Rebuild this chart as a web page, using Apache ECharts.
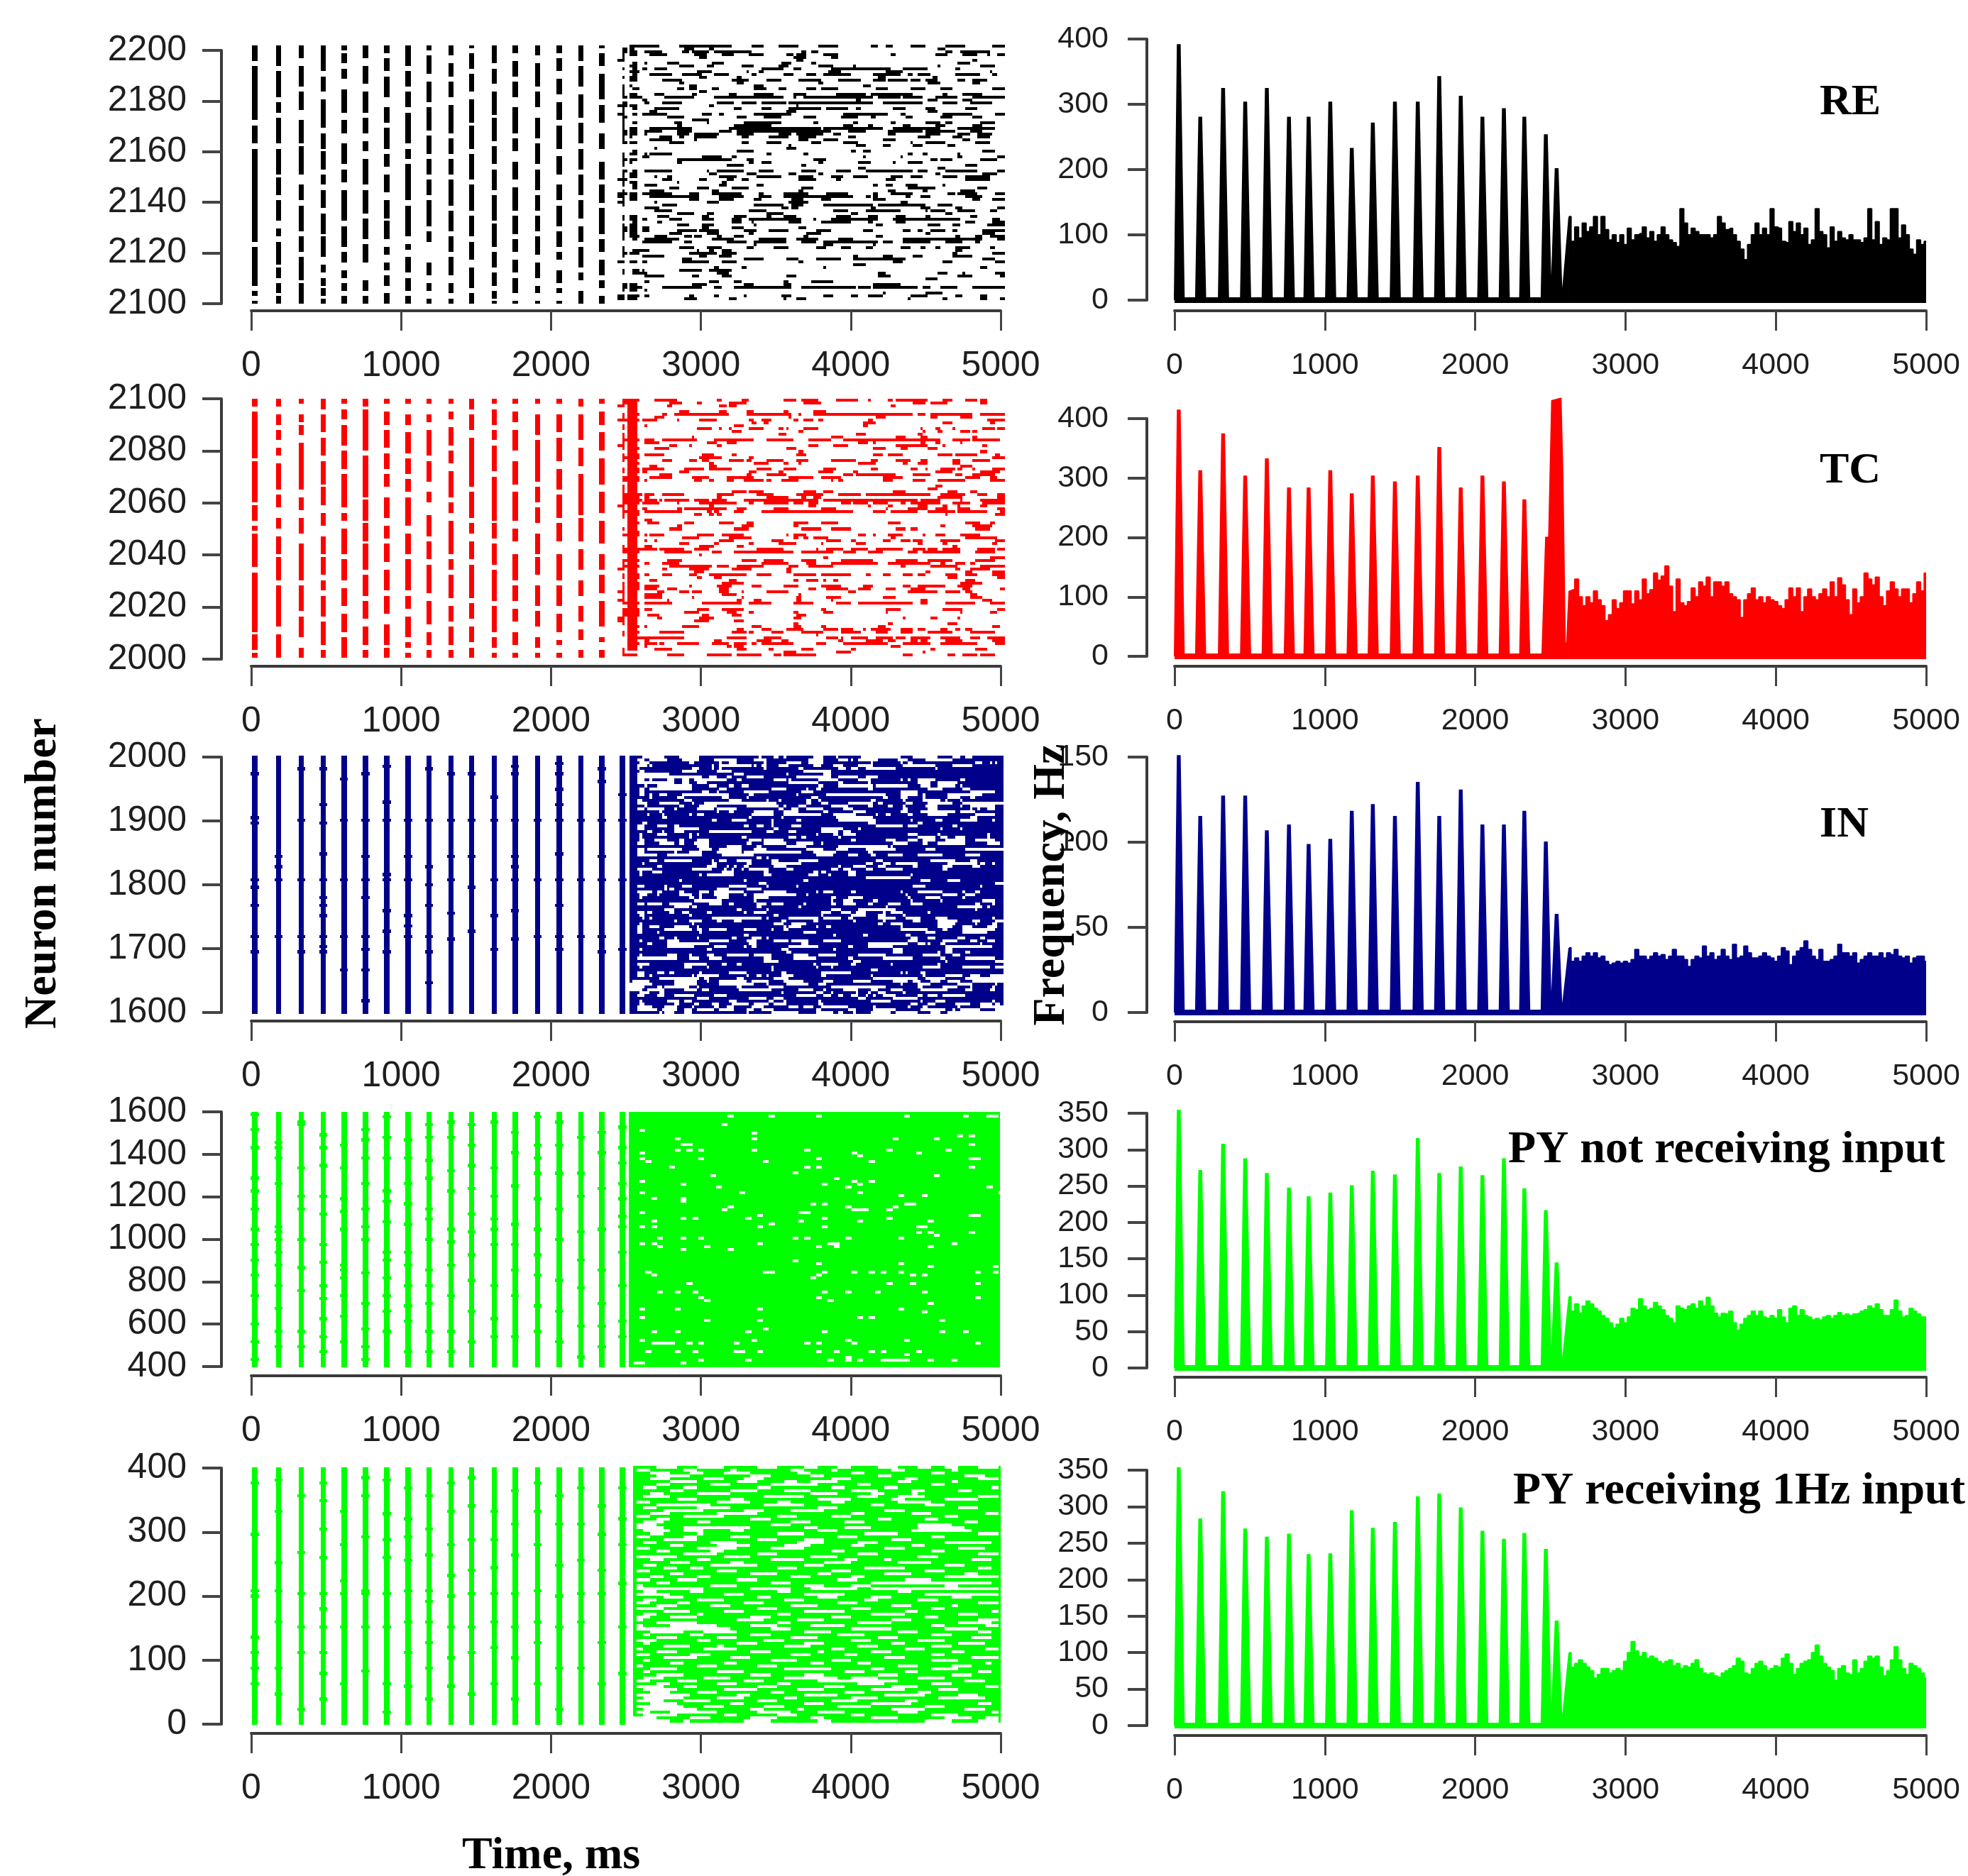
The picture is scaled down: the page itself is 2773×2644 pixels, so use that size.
<!DOCTYPE html>
<html><head><meta charset="utf-8"><style>html,body{margin:0;padding:0;background:#fff}#c{width:2773px;height:2644px}</style>
<script src="https://cdn.jsdelivr.net/npm/echarts@6/dist/echarts.min.js"></script></head><body><div id="c"></div><script>
const spikeTimesLeft=[24,183,334,481,619,762,905,1047,1186,1332,1471,1622,1760,1911,2054,2200,2339,2477];
const spikeTimesRight=[28,171,323,470,614,761,892,1036,1179,1319,1466,1618,1761,1904,2048,2191,2327,2470,2542];
const tailStart=2625, tailStep=25;

const re_peaks=[391,280,324,303,324,280,280,303,232,271,303,303,342,312,280,293,280,253,201];
const tc_peaks=[414,312,374,303,332,283,283,312,273,303,293,303,351,283,303,293,263];
const tc_onset=[[2445,0],[2470,200],[2490,200],[2510,430],[2570,434],[2583,300],[2598,22],[2610,22]];
const in_peaks=[150.7,115,127,127,106.6,110,98.5,101.6,118,122,115,135,115,130.5,110,110,118,100,57.5];
const py0_peaks=[354,271,307,287,267,247,235,240,250,270,265,315,267,276,264,287,246,216,144];
const py1_peaks=[353,283,320,269,258,262,234,235,294,270,278,313,317,298,266,255,263,241,143];

const re_tail=[128,90,112,95,118,105,112,128,100,128,108,92,100,88,100,85,110,92,100,102,112,95,105,90,100,112,100,92,88,82,140,118,100,110,105,100,100,100,95,100,128,118,108,110,100,90,78,62,85,100,118,100,110,100,140,112,110,90,88,120,105,118,100,110,85,92,140,105,100,80,112,90,105,95,92,100,92,92,88,95,140,92,120,85,95,92,140,140,95,115,100,78,70,92,85,90];
const tc_tail=[110,112,130,100,85,100,90,110,95,85,60,70,95,80,90,110,110,88,110,95,130,105,112,140,128,135,152,118,75,130,90,85,92,115,100,125,118,133,100,125,125,118,125,105,100,95,65,95,105,115,95,100,90,100,95,92,85,80,95,115,100,115,75,100,113,100,95,105,113,100,125,100,132,120,95,70,113,90,100,140,130,120,133,100,85,110,125,113,100,113,113,90,105,125,110,140];
const in_tail=[38,30,32,30,33,35,33,35,32,33,30,28,29,30,29,30,29,31,37,33,33,31,33,35,33,34,31,33,37,33,33,31,27,31,33,32,39,33,35,31,33,37,33,31,40,32,33,39,35,32,32,33,35,33,32,30,33,38,36,28,33,36,38,42,37,33,31,37,30,30,31,33,40,35,35,33,35,29,31,33,35,33,33,35,32,35,34,37,33,32,33,29,32,33,33,30];
const py0_tail=[98,78,88,75,85,92,88,82,78,72,68,62,55,60,68,62,70,82,80,95,85,80,82,90,85,80,72,68,62,85,82,80,85,88,82,92,85,97,85,75,70,75,74,78,62,52,60,68,72,78,72,78,70,68,72,68,80,70,62,82,85,72,80,72,70,66,68,66,70,72,68,72,76,72,74,72,74,75,78,80,85,82,88,80,72,72,80,93,78,70,72,82,78,74,70,70];
const py1_tail=[100,80,85,90,85,80,75,65,70,78,78,72,75,78,75,88,100,115,102,95,100,92,95,92,88,85,88,90,82,85,78,82,80,85,90,78,72,70,72,68,66,72,75,78,82,92,88,72,70,78,85,88,82,75,78,82,80,92,98,85,70,78,85,88,90,100,110,95,85,80,75,62,78,82,72,70,90,72,78,88,95,92,95,80,68,75,90,108,90,78,70,85,82,78,72,65];

const re_runs=["5 17 25 46 54 59 65 73 81 89 102 105 108 111 118 124 132 140 151 156","2 4 5 7 27 31 37 39 129 132","2 4 5 8 11 18 26 29 30 37 39 54 74 76 78 81 132 135 138 150","2 3 5 8 13 20 31 36 42 47 53 59 68 71 72 76 83 89 110 112 128 133 139 145 149 150 153 156","2 3 33 36 71 76 86 89","0 3 72 75 143 145","6 8 11 12 20 25 38 43 66 70 78 80 137 142","5 8 25 31 36 39 50 55 65 69 81 87 95 96 129 130 146 152","2 3 6 8 10 12 15 20 58 67 71 74 86 110 115 125 136 138","5 9 32 38 52 53 57 59 85 90 108 115 150 151","6 8 13 22 26 34 39 45 54 56 67 71 76 80 83 94 103 114 117 119 121 126 136 146 151 153","2 3 5 8 33 36 48 50 105 108 127 129","5 8 18 26 46 53 60 66 73 82 89 98 103 108 109 117 118 122 124 129 137 140 143 149","25 27 48 51 81 83 125 130 143 146","2 3 5 6 29 32 55 59 99 102","2 3 6 9 24 27 29 32 38 41 55 60 65 68 76 80 82 89 104 109 118 124 130 135 151 156","2 3 33 36","2 3 5 8 15 19 30 32 45 48 55 63 71 76 88 100 102 119 131 133 139 147","2 4 5 10 19 31 39 67 71 72 75 103 105 114 115 123 128 137 143 156","10 12 96 98 125 129 139 143","2 4 11 13 18 26 40 47 50 56 58 68 69 103 107 123 131 137 142 151","0 4 5 8 37 39 72 73","2 3 6 8 15 25 47 50 58 62 69 82 84 93 96 98 111 116 124 128 140 145","2 3 13 16 68 72 125 129","0 3 6 8 10 20 34 38 41 43 55 70 91 109 114 116 131 143 152 156","2 4 20 27 48 52 59 66 75 80 90 97 102 104 116 119 130 135 143 147","2 3 30 37","2 3 6 8 23 26 36 37 51 66 79 81 95 97 110 112 124 130 132 135 146 152","2 3 24 26 47 62 91 95 101 103 115 118 128 132 143 147","2 3 5 8 13 30 45 82 83 107 111 130 137 152","2 4 5 8 11 18 24 30 41 46 48 86 93 100 109 123 124 136 142 147","2 4 5 8 11 12 24 29 31 41 48 55 65 70 72 83 87 90 109 112 124 130 137 142 145 151","2 3 5 6 17 22 25 27 31 40 50 53 61 69 73 80 93 96 121 126 135 139 145 150","2 3 13 22 31 32 73 77 83 89 107 112 139 142","2 4 5 8 21 27 50 53 60 66 78 82 91 97 118 119 124 132 144 150","69 70 96 100 107 110 119 123 133 136","15 16 68 72","6 8 48 55 94 96 99 102 147 152","2 3 5 8 11 12 13 22 60 62 75 77 117 119 123 125 137 138","2 3 10 13 34 42 46 48 99 100 114 115 137 139 153 156","2 4 5 8 24 46 52 55 79 84 126 129 130 135 146 153","2 3 5 6 24 26 53 55 58 62 81 83 97 102 111 112 117 123","2 3 44 51 74 76 140 145","97 100 129 132","2 4 6 8 11 22 36 37 40 51 57 63 74 80 88 94 100 119 121 125 132 145 153 156","2 3 5 8 37 40 52 56 69 72 81 83 128 130 147 153","2 3 5 8 15 16 20 22 41 48 56 66 73 79 86 91 95 101 110 115 118 123 131 137 140 150","0 4 18 22 33 36 44 47 50 53 73 80 88 90 108 112 140 150","2 3 5 8 24 25 42 44","2 3 6 8 11 16 41 44 56 59 103 105 108 111 116 121 131 132","6 8 21 25 32 37 46 53 74 79 117 128 145 149","2 3 13 19 38 41 73 75 109 112 123 125 138 144","0 4 5 8 10 22 29 33 38 50 57 59 67 77 84 93 103 105 110 119 133 136 137 145 152 156","0 3 5 8 13 33 41 51 57 62 67 95 100 102 103 105 116 118 122 126 140 147","2 3 5 8 29 33 41 47 55 58 70 75 82 86 103 108 143 146 151 156","0 3 15 16 36 41 69 77 114 117","2 3 18 24 55 67 70 75 83 103 105 124 129 135","11 17 66 69 70 73 102 104 122 126 136 139 153 156","15 22 53 60 87 93 100 114 124 125 126 132 137 144 150 153","24 31 36 39 60 67 94 97 132 135","2 3 5 8 16 21 34 37 47 52 60 62 67 72 88 94 101 105 112 116 124 126 142 145","2 3 5 8 10 12 21 26 34 39 46 50 53 74 79 80 86 105 111 138 151 154","6 8 16 18 46 50 54 55 69 74 82 94 101 103 112 116 140 144 151 156","2 3 5 8 24 29 34 39 55 56 104 107 125 130 135 138 149 156","2 4 5 8 10 13 34 37 46 51 73 76","2 4 5 8 10 13 24 32 33 41 51 56 61 69 80 86 99 103 115 118 121 123 126 132 135 137 147 156","2 3 5 8 21 26 36 41 53 55 76 82 124 126 147 152","2 3 5 9 15 20 27 30 31 34 40 42 47 51 75 77 104 107 136 138 144 147 150 156","2 3 6 8 11 25 38 47 57 68 72 81 89 95 115 147 153 156","10 22 27 30 44 52 55 68 74 80 83 105 107 111 115 126 132 139 144 146","55 56 83 87 103 104","2 3 25 31 36 42 52 55 63 69 80 84 90 94 100 103 114 118 122 124 128 130 136 142 150 152","2 3 6 13 32 33 37 39 42 46 136 139","2 4 5 9 29 40 42 48 135 137 151 156","2 3 10 19 33 36 41 46 95 97 107 111 119 123 135 143","26 30 51 59 68 73 80 90 95 116 147 152","0 3 5 8 10 12 26 37 42 48 73 75 111 115 131 135 152 156","95 100","39 41 50 52 83 84 146 149","2 3 6 9 10 11 25 34 37 46","2 3 6 12 40 45 105 108 129 133 139 140 152 156","11 19 30 33 42 46 68 72 105 110 137 143 154 156","124 129","11 13 37 41 47 50 67 69 78 87","2 4 5 8 30 36 51 55 67 70 103 114","2 4 5 10 18 34 39 42 47 70 74 96 97 102 103 121 123 126 130 137 143 156","2 3 5 8 11 12","107 108 124 131","0 3 4 9 11 13 29 31 39 41 51 52 66 70 83 87 94 97 101 107 118 125 136 139 146 149","0 3 4 8 27 32 45 48 67 68 72 76 117 118 131 133 146 149 154 156"];
const tc_runs=["2 9 15 24 40 42 50 53 67 72 74 81 88 97 101 102 109 111 112 125 131 135 140 145 146 149","2 8 21 26 32 34 45 52 75 82 119 124 126 133 146 149","0 3 4 8 20 22 41 44 45 48 110 112","4 8","4 8 25 29 41 44 52 55 67 69 79 84","2 3 4 9 18 20 23 45 52 70 73 74 79 119 121 124 126 143 146 156","2 3 4 8 15 19 69 70 104 108 126 129 138 143","0 9 10 16 24 25 33 40 53 55 58 62 71 73 75 79 81 83 101 103 149 156","4 8 54 56 59 61 99 104 131 135 150 152","2 3 4 8 11 12 47 51 99 101","2 3 4 8 32 38 41 42 45 46 53 59 65 67 68 69 75 81 122 123 128 130 135 136 147 152 153 156","4 8 46 50 73 75 123 124 129 131 138 142 143 145","2 3 4 8 65 68 96 100 121 123","2 3 4 8 30 31 86 91 112 116 122 125 143 145","2 9 11 15 18 32 39 55 60 71 77 86 91 130 135 142 143 154","2 3 4 8 11 17 36 40 44 48 97 101 103 104 122 124 128 130 138 139","0 3 4 8 21 24 29 30 40 42 77 81 87 93 112 125 131 132 147 149","2 3 4 9 15 21 68 72 103 108 114 117 125 129","4 8 73 75 146 149","2 3 4 9 11 19 34 39 46 48 72 76 103 107 109 115 129 135 136 145 152 154","2 9 33 42 53 55 151 156","2 3 4 8 18 22 29 32 34 37 45 51 52 54 60 67 72 77 86 96 102 105 112 118 122 125 135 138 143 150","4 9 37 39 55 61 67 69 73 74 97 104 115 117 121 125 135 138","4 8 13 16 37 40 138 143","2 3 4 9 10 19 27 35 37 46 56 62 67 72 83 88 102 105 118 121 124 125 130 136 137 139 143 144 151 156","2 3 4 9 10 12 25 29 53 56 65 67 81 87 95 97 128 135 146 154","4 8 17 22 52 54 60 68 91 95 96 112 119 126 136 139 143 152","2 9 13 22 30 37 44 55 69 79 82 90 107 115 140 146 150 153","2 9 11 12 31 34 37 39 44 47 51 59 60 62 66 73 86 87 89 91 107 111 119 124 129 140 150 156","4 8","2 3 4 8 128 131","2 3 4 8 125 129","2 3 4 8 46 52 53 59 75 80 83 87 111 116 133 137 142 145","2 10 11 15 18 27 40 47 56 63 72 83 89 98 100 126 130 140 145 149 153 156","2 9 11 13 40 42 60 69 74 76 79 82 129 139 153 156","2 10 11 16 17 18 19 29 31 37 38 44 51 81 83 121 122 130 138 139 146 156","2 9 10 17 24 25 33 48 53 55 59 69 71 75 77 81 90 94 95 101 103 109 114 116 118 130 135 142 147 156","0 3 4 8 37 39 77 80 101 102 109 111 121 125 131 133 137 138 146 149","2 3 4 8 10 12 24 26 27 44 48 52 63 69 82 88 108 109 117 125 128 133 137 142 153 156","2 9 11 26 36 38 39 41 47 51 58 95 103 108 110 121 125 136 137 149 154 156","2 3 4 9 31 34 37 39 40 42 132 133 152 156","2 3 4 8","4 8 11 14","4 9 12 17 27 31 41 47 52 55 71 77 82 89 109 114 140 146 150 152","4 8 24 26 50 55 71 73 130 132 143 151","2 3 4 8 21 26 47 53 74 82 86 94 112 116 118 121 144 150","4 9","2 9 11 12 13 19 32 39 42 51 68 69 71 76 97 100 103 104 109 115 123 124 128 132 138 146","4 8 26 33 45 54 71 73 75 77 79 85 110 112 140 153","4 8 11 12 15 16 41 47 62 67 84 90 94 96 107 110 114 118 119 123 130 138 152 156","4 8 25 29 39 41 53 55 65 72 82 83 96 100 121 123 131 133 151 153","2 3 4 8 11 14 33 39 48 51 135 137","2 16 17 27 31 37 56 67 80 81 84 91 94 101 104 115 119 124 125 129 131 138 145 152 153 156","2 9 19 30 38 42 47 71 74 87 91 96 101 107 117 121 123 138 144 152","4 8 33 34","4 8 83 85 150 156","2 9 20 26 50 56 59 67 74 80 90 103 112 121 125 135 144 152","2 3 4 8 11 13 18 25 58 69 76 80 86 105 109 126 130 132 136 140 142 144","2 9 21 38 40 45 48 59 69 73 77 87 114 116 126 137 146 156","0 3 4 8 18 20 29 37 46 54 68 70 136 138 142 150","4 8 31 35 68 70 124 126 140 143 151 156","2 3 4 9 11 13 18 22 29 32 37 52 56 62 71 80 82 94 100 102 107 110 115 119 121 124 132 137 140 145 151 156","2 3 4 9 32 34 39 42 133 137 153 156","4 8 13 16 45 48 71 73 76 81 83 84 87 89 140 144","2 3 4 9 42 51 138 147","2 3 4 9 11 17 29 30 40 46 54 58 67 73 82 90 99 103 115 118 121 132 137 143","2 3 4 9 11 16 20 24 41 45 77 80 84 93 97 102 108 112 118 124 139 142 154 156","0 3 4 8 16 19 25 29 30 34 41 45 50 51 60 69 93 96 117 129 132 138 140 143","2 3 4 8 11 18 42 48 73 74 142 145","2 3 4 8 11 18 30 31 50 51 72 74 84 90 107 112 142 147","0 3 4 8 20 21 48 50 55 58 72 74 86 87 122 125 147 151","2 9 11 22 34 50 53 62 71 79 88 94 97 119 122 125 132 144 150 156","4 8","2 9 11 14 32 37 42 51 82 84 108 114 131 139 153 156","2 9 27 33 44 48 53 55 71 73 83 87 108 109 138 139 150 153","2 9 12 17 34 37 46 50 72 76","0 3 4 8 16 18 33 39 71 74 115 116 126 129 137 138","0 3 4 8 31 37 47 51","2 3 4 8 71 73 109 111 133 137","4 9 11 12 26 33 54 58 71 74 82 84 105 108 151 154","4 8 48 51 58 62 68 75 83 89 90 95 99 100 102 110 114 119 121 124 130 133 136 138 140 143","2 3 4 9 17 27 46 52 53 55 62 67 74 83 90 98 104 109 114 119 125 135 142 152","2 3 4 8 80 81","4 27 44 52 59 66 84 89 90 91 94 101 104 111 112 116 118 126 130 138 142 146 149 156","4 8 11 13 39 42 56 62 66 69 89 91 100 107 109 112 118 121 122 125 132 139 151 156","4 9 11 16 17 19 24 33 38 45 47 52 54 56 58 71 80 84 91 109 115 126 130 145 152 156","4 8 11 12 44 46 47 51 110 114","2 3 4 8 15 22 48 52 61 63 74 79 94 96 126 128 144 149","2 3 67 72 88 94 123 124","2 8 20 27 36 46 48 58 63 66 67 80 115 119 133 136 139 145 146 152"];
const in_holes=["10 19 25 33 57 58 63 65 67 68 79 83 88 89 98 114 119 129 135 138 140 143","8 11 13 20 26 33 39 48 55 60 77 83 89 93 94 95 97 105 113 117 124 135","9 13 29 31 41 42 45 48 59 60 68 74 77 83 102 103 114 115 117 119 144 147 150 151 152 153","8 12 13 14 38 39 41 54 55 56 58 60 65 69 79 82 87 91 97 103 115 128 135 143","8 9 30 33 38 39 41 42 59 60 73 75 89 92 94 97 100 112 128 129","9 11 26 32 40 46 75 86","8 21 47 51 68 69 83 86","8 34 37 40 44 46 52 59 72 86 89 97 100 105","8 11 13 14 20 23 26 29 31 44 48 50 63 68 69 70 81 89 97 102 114 115 117 118 121 128 138 140","8 23 26 29 32 36 69 81 89 91 101 102 121 126 129 137","11 12 16 30 37 40 45 47 50 53 81 83 89 103 104 117 122 126 129 136 138 139","9 11 13 30 41 44 62 68 76 77 80 82 101 103 125 131 139 142","9 11 34 37 40 41 51 61 74 79 114 121 142 152","9 11 13 14 17 20 26 45 53 55 72 73 84 108 114 121 123 124 133 147","13 14 24 27 42 45 52 53 78 81 107 109 114 117 123 124 133 138 142 144","8 10 27 30 45 50 60 61 65 66 76 78 81 82 102 104 115 116 123 130 132 133 138 139","8 12 17 25 30 31 35 64 76 78 82 85 93 103 105 107 116 119 125 135 139 156","11 12 25 27 33 40 52 65 67 68 73 76 86 93 101 103 109 111 115 116 124 129 138 139 142 152","8 11 12 19 23 24 32 39 40 48 65 67 70 73 76 83 91 95 115 117 125 129 142 143 145 146 149 152","17 18 40 41 45 47 55 63 67 73 83 85 95 100 114 117 122 136 138 144","12 13 18 19 29 30 32 35 54 63 67 82 87 96 104 105 108 110 117 119 125 133 144 152","18 20 53 54 66 67 88 103 142 145","38 40 46 52 62 63 72 74 89 104 118 119 128 131 138 145 151 152","10 12 62 63 101 104 121 123","8 11 16 20 23 25 51 53 56 59 62 63 70 74 104 115 117 121 135 137","8 11 23 33 63 65 82 91 97 98 130 131 138 139","12 14 18 19 23 27 37 54 60 63 69 72 82 89 91 94","9 10 16 20 29 30 32 33 80 81 87 89 91 96 117 121 129 130 149 150","9 10 29 30 50 52 69 72 74 76 89 90 121 128 130 133 136 140 149 150","9 11 15 20 25 27 32 37 53 58 59 67 94 96 108 112 117 121 123 128 132 140 144 152","8 11 17 23 25 27 31 37 52 54 59 68 72 79 82 83 111 117 123 125 129 140 149 154","32 37 44 50 56 58 68 76 89 109 110 111","8 11 12 26 33 38 41 50 55 60 76 83 88 93 100 112 124 128 140 156","8 11 23 24 29 34 40 50 51 74 79 88 101 103","8 16 20 34 42 55 80 87 93 97 102 104 109 115 121 131 140 146","56 58 60 61","13 16 19 30 38 39 41 44 48 54 62 65 73 81 104 107 126 136 142 145","10 11 38 40 52 54 62 74 100 103 107 110 112 121 133 145 146 148 151 152","16 18 36 40 44 45 47 48 51 53 63 68 89 90 95 100 105 108 119 121 131 135 143 146","8 14 30 38 43 44 46 47 50 51 53 61 68 71 86 89 91 94 100 103 108 115 131 133","9 10 14 18 42 47 59 61 79 81 82 84 93 96","9 10 33 34 36 47 59 62 77 81 85 86 93 96 118 119","100 118","25 26 51 52 75 77 122 126 133 138","57 60 152 156","8 11 19 20 26 30 45 52 60 61 72 73 119 124 146 147","19 20 21 23 40 45 52 58","8 14 16 18 25 27 33 37 39 51 59 68 80 81 83 87 94 96 114 115 121 131 139 140 144 146","9 12 16 17 25 30 33 34 39 45 51 52 55 72 76 77 116 117 131 137 140 144","9 10 29 31 33 34 40 45 55 61 86 88 93 99 117 118 124 130 139 140","31 42 55 56 86 87 91 95 103 105 118 119 130 131 147 152","8 11 12 18 21 30 37 42 45 47 56 60 62 67 75 76 86 88 91 96 101 103 109 114 118 123 144 146 151 152","23 29 30 32 56 58 73 74 108 109 137 147 149 150","19 23 48 50 60 61 86 90 97 112 144 145","8 11 12 14 21 23 26 29 36 38 51 52 55 60 82 86 90 94 96 100 107 108 110 115 125 126","9 11 29 30 63 65 82 83 94 100 105 108 115 116","10 11 13 14 38 58 60 61 69 81 83 90 93 95 105 112 116 122 128 133 151 152","23 24 29 34 40 42 47 50 66 68 79 81 95 96 107 108 119 122 129 137 143 146 152 156","9 10 30 31 63 67 70 76 105 107 110 115 129 136 144 145 151 153","8 10 13 17 23 29 32 33 67 68 69 74 80 81 84 86 114 115 129 135 139 143 149 153","8 10 19 30 32 34 37 44 51 56 62 63 67 69 114 125 131 133 139 152","8 10 16 17 33 34 75 80 124 128 139 149","51 53 87 88 99 101 116 118","17 19 23 24 32 33 46 48 54 58 60 61 118 121 125 128 137 140 146 148","9 10 20 25 37 45 52 56 63 69 70 77 83 90 117 121 131 137 142 145 149 152","12 14 20 37 53 56 74 77 101 117 121 124 125 126 130 132 146 147","20 31 39 44 51 52 54 56 69 81 93 95 101 111 132 151","9 10 36 38 66 69 87 88 111 115 132 135","68 70 111 115 129 130 132 135 140 142","9 10 20 24 29 30 36 39 44 53 55 62 71 77 81 88 97 108 123 130 135 138","8 24 29 33 37 42 59 62 71 80 93 95 107 119 130 132 140 152","59 65 95 98 132 133 152 156","8 13 27 36 42 44 48 50 79 80 82 89 94 96 110 111 129 130","9 10 27 30 36 37 62 63 80 81 86 87 123 130 139 150 152 156","62 63 102 105","8 11 16 19 21 23 33 34 45 52 66 68 82 94 114 115 116 117 122 124","8 11 13 14 30 31 32 41 52 53 56 58 60 61 66 71 82 84 102 103 123 124 132 139 142 146 150 156","17 33 35 37 48 51 63 69 103 121 124 132 140 156","6 13 23 32 36 37 41 52 54 61 67 75 83 87 95 102 111 117 119 122 126 130 133 138 143 156","5 14 23 32 41 55 60 61 68 77 81 84 114 115 121 126 137 143 152 153","5 11 16 18 19 29 32 33 48 50 61 67 86 108 121 123 131 137 142 143 151 152","5 10 12 19 27 32 34 37 49 62 73 79 83 84 91 97 102 105 110 115 122 133 140 143 150 152","9 13 17 19 66 67 80 83 86 87 96 97 101 102 105 108 115 116","8 11 16 19 23 31 39 44 72 80 83 86 89 91 94 97 100 101 103 104 107 112 121 123 125 129 131 140","32 37 53 60 63 67 97 100 111 121","9 10 20 25 27 30 45 48 61 63 67 68 81 82 102 110 122 123 128 132 151 152","9 11 23 25 31 33 38 41 46 53 55 61 63 68 81 83 118 121 125 128 136 142 146 151 152 154","8 14 19 24 30 31 39 41 44 47 54 59 69 73 75 79 82 93 103 104 117 118 123 125 137 138 146 156","8 16 18 24 27 30 32 39 41 47 52 55 58 63 80 82 93 96 103 112 122 132 135 136 138 146 152 156","17 18 19 23 27 30 52 53 62 73 80 87 89 91 95 96 102 110 112 121 126 130 133 156"];
const py0_holes={1:"108 109 115 116 123 124 138 139 148 149 152 154",4:"107 108",6:"93 94",7:"112 113",8:"147 148 149 150",9:"99 100 112 113 136 137 143 144",11:"100 102 149 150",13:"99 100 101 102 103 104 112 113 121 122 135 136 145 146",14:"93 94 129 130 140 141",15:"130 131",16:"93 94 103 104 123 124 149 151",17:"94 95 114 115 132 133",19:"98 99 121 122 123 124 149 150",21:"119 120",22:"105 106 143 144",23:"126 127",24:"93 94 129 130 132 133",25:"100 101 124 125 130 131",26:"106 107 128 129 152 153",28:"93 94 110 111 130 131 154 155",29:"137 138 141 142",30:"95 96 100 101",31:"100 101",32:"122 123 124 125 138 140",33:"108 109 128 129 136 137",34:"107 108 129 132 135 136",35:"93 94 120 122",36:"113 114 149 151",37:"100 101 102 103 111 112 124 125 135 136",38:"95 96 120 121 130 131 142 143",39:"115 116",40:"93 94 95 96 113 114 124 125 140 142",42:"140 141 142 143 149 150",43:"143 144",44:"96 97 100 101 103 104 119 120 121 122 128 129 137 138",46:"93 94 95 96 113 114 125 127 146 147",47:"96 97 104 105 123 124 126 127 142 143",48:"100 101 108 109",52:"119 120",53:"123 124 137 138",54:"142 143 153 154",56:"94 95 114 116 124 125 129 130 132 133 134 135 137 138 150 151 153 154",57:"95 96 123 124 139 140 141 142",58:"122 123",60:"101 102 135 136 139 140 150 151",63:"96 97 99 100 102 103 124 125 128 129 133 134 141 142",65:"103 104 123 124 150 151",66:"104 105 125 126",67:"142 143",69:"93 94 99 100 113 114 137 138",70:"141 142",72:"93 94 130 131 132 133",73:"104 105 113 114 144 145",76:"114 115",77:"95 96 99 100 111 112 124 125 144 145 148 149",80:"93 94 112 113 128 129 138 139",81:"95 99 101 102 103 104 109 110 121 122 123 124 129 130 150 151",84:"94 95 99 100 102 103 109 111 113 114 123 124 126 127 132 133 134 135 140 141",85:"138 139",86:"128 129",87:"103 104 111 112 125 126 128 129 130 131 134 139 142 143 146 147",88:"92 94 100 101"};
const py1_holes=["98 101 104 108 113 116 120 122 125 127 131 134 137 139 141 143 146 149","95 97 102 104 109 110 118 120 124 125 133 135 142 143","97 100 103 105 108 112 119 121 127 129 139 141","98 103 112 115 121 123 131 133 144 147","97 100 105 108 111 114 124 127 135 137 146 149","100 104 110 113 117 119 121 125 134 136 142 143","98 100 106 109 115 122 128 130 139 141","96 98 102 104 113 115 124 126 132 134 148 149","100 102 109 113 117 121 127 131 136 138 143 145","97 99 104 109 121 125 130 132 136 137","96 100 114 120 128 131 134 138 146 149","101 104 109 111 122 127 133 135 141 146","95 97 107 112 116 118 124 126 134 139","98 106 114 120 130 132 138 141","96 98 104 109 122 125 143 146","99 105 111 114 118 123 132 135","97 100 107 113 127 129 136 139 147 149","95 97 102 108 116 119 124 127 141 143","98 100 112 115 131 133 138 140","96 99 104 106 118 121 126 129 144 146","95 98 115 118 137 142","95 99 102 112 120 122 126 130 137 144","96 100 102 105 109 111 122 125 136 145","97 99 104 105 116 120 129 134 146 149","95 97 102 104 109 112 125 128 139 141","99 104 113 116 120 123 133 136","96 98 106 110 119 123 128 131 141 148","100 102 107 112 117 121 127 129 136 138","95 97 104 110 115 120 132 135 143 147","98 100 106 108 124 126 139 141","102 107 113 116 128 131 146 149","95 101 108 112 121 125 137 140","97 99 104 106 115 120 126 128 132 133 145 148","100 103 109 111 123 127 134 139","96 98 106 113 120 123 141 144","99 101 103 105 116 119 129 135 146 148","95 97 107 110 124 127 138 141","100 102 112 116 122 124 132 136 144 146","97 99 104 106 118 121 127 129 141 149","95 97 101 104 110 113 125 128 135 139","98 100 115 118 130 148","95 96 106 110 120 123 127 130 141 143","95 105 112 118 121 128 130 149","96 98 103 105 116 118 134 136","95 100 108 111 120 126 138 149","99 102 113 115 122 125 130 133 142 145","96 98 104 108 117 120 129 131 137 140","95 97 101 103 111 114 125 128 146 149","98 101 106 109 118 122 133 136 142 143","95 99 113 116 127 130 139 141","99 103 108 111 120 126 135 137 148 149","96 98 104 105 116 118 130 135 143 146","95 97 100 104 112 115 124 127 138 140","95 96 110 114 119 123 133 136 146 149","98 104 116 118 128 133 143 148","95 96 100 107 112 116 121 126 139 141 147 149","95 109 115 118 127 133 141 146","97 102 105 110 120 124 134 137 146 148","96 97 103 105 112 115 125 129 139 142","98 101 107 110 118 122 131 134 145 148","95 98 104 106 114 117 127 130 137 141","96 97 110 113 120 123 133 135 143 147","99 103 107 108 117 121 128 131 139 142","95 96 105 110 124 126 135 138 147 149","98 101 112 115 122 123 130 133 142 144","95 97 103 106 118 121 126 128 139 141","99 104 109 112 132 135 145 149","96 97 115 119 124 127 139 143","100 102 108 110 121 123 128 130 147 148","95 96 104 107 113 116 134 137 142 145","97 101 117 124 130 132 139 143","96 97 107 111 126 129 135 137 146 148","98 102 112 115 120 123 131 134 142 145","96 99 105 109 117 125 127 131 137 141","95 97 101 104 111 114 122 134 144 147","98 100 107 110 116 118 128 132 139 142","95 99 102 104 113 116 123 126 133 137 147 149","96 101 108 113 119 123 130 135 140 143","97 100 104 107 115 117 126 129 137 139","95 103 110 112 120 125 132 138 143 146","96 102 107 111 117 119 127 131 140 147","95 99 102 106 113 116 124 128 135 137","97 101 109 111 120 123 130 136 146 148","95 102 105 108 114 117 125 130 138 141","96 104 112 114 119 120 133 138 144 147","95 97 100 107 113 118 122 126 134 137 148 149","96 101 108 110 116 119 127 129 139 143","94 98 103 106 112 116 121 123 130 134 141 145 147 149","94 100 102 103 111 115 122 124 138 142 146 149"];

const re_gaps=["6 8 29 31 38 40 76 78 93 95 97 99","8 10 20 22 26 28 38 40 50 51 58 60 68 71 74 76 85 86 90 92 96 97","5 8 16 18 25 29 38 39 50 54 60 62 72 74 80 82 91 92","10 12 18 21 32 34 40 41 48 50 54 56 63 65 73 74 82 85 88 90 93 94 97 98","2 3 7 9 13 17 26 29 34 38 46 48 53 56 68 70 78 80 84 87 90 92 95 97","5 8 15 18 26 28 34 37 41 44 54 56 65 67 75 77 84 91 95 97","3 5 10 12 20 24 30 32 40 42 47 50 57 60 67 68 75 78 81 84 87 89 93 96","8 10 16 18 24 26 38 40 44 46 60 62 74 77 79 82 88 90 95 97","2 4 11 14 22 24 33 35 42 44 50 52 58 60 70 72 76 84 89 92 95 98","4 7 12 14 20 23 34 36 42 44 50 52 62 64 72 74 80 82 89 92 96 98","1 3 9 11 18 21 30 31 40 42 52 54 64 66 74 76 83 86 94 96","7 9 15 18 27 28 37 39 46 48 56 58 68 69 78 80 86 88 93 95 98 99","3 6 12 14 20 24 34 36 41 45 52 55 64 66 73 75 80 83 88 90 96 99","4 7 16 18 24 28 36 38 46 48 56 58 64 66 72 74 81 84 90 93 96 99","3 5 10 13 19 22 29 31 40 43 50 54 60 62 70 72 78 80 83 87 92 94 96 99","6 8 16 19 28 30 38 40 48 50 58 60 67 70 76 78 86 88 91 95","1 3 8 11 21 23 30 34 40 45 52 54 61 63 73 75 80 83 89 91 94 97"];
const tc_gaps=["3 5 23 24 40 41 47 49 51 52 65 67 90 91 97 98","3 6 10 12 16 19 22 25 35 37 42 46 50 53 60 61 70 72 88 91","2 6 9 10 14 17 35 38 43 46 52 56 70 72 82 84 92 96","4 6 13 15 22 24 33 34 41 44 49 53 60 61 68 70 74 76 84 86 95 97","2 4 8 10 18 20 27 29 42 44 47 50 60 62 70 73 80 83 90 92","3 4 20 22 38 39 47 48 55 56 66 68 76 78 85 88 95 97","2 5 10 12 19 21 27 29 34 38 46 49 54 56 63 66 74 76 83 87 95 96","2 6 10 13 21 23 29 31 36 38 49 52 60 62 74 76 81 84 92 94 96 98","2 6 9 12 22 24 32 36 40 45 53 55 62 64 75 78 87 90 95 97","2 5 8 11 18 20 25 28 38 40 44 47 60 62 66 68 77 80 86 88 95 97","4 6 12 15 34 36 46 48 52 55 62 64 77 79 85 88 94 96","2 4 10 12 16 18 28 30 47 48 54 56 64 66 78 80 90 92 96 98","2 5 9 12 20 24 33 36 47 50 55 60 70 72 78 81 86 90 95 98","2 6 14 16 32 34 40 42 48 52 60 61 68 72 80 82 88 92 96 98","2 6 13 15 24 27 35 37 46 48 55 60 70 72 80 83 90 93 95 98","3 6 16 19 26 29 45 46 55 58 66 70 76 80 86 89 93 97","2 5 10 13 20 23 33 36 44 47 56 60 66 68 75 78 88 92 94 97"];
const in_bumps=["7 24 26 48 51 58 70 76","39 43 48 70","5 25 48 70 76","5 19 26 38 48 55 58 62 70 74 76","9 25 48 70 83","7 25 39 48 55 70 75 83 95","4 18 25 46 48 60 68 76","25 39 48 62 66 70","5 25 43 50 58 70 76 88","7 25 39 48 61 71","7 25 39 51 68","16 25 48 62 75","4 7 25 39 43 48 60 71","25 48 70","3 7 13 19 25 38 48 58 70 75","25 48 70","5 10 25 39 48 70 76","15 25 48 75"];
const py0_bumps=["1 7 14 26 31 38 46 52 58 64 72 83 90 97","12 14 18 28 45 47 50 55 60 68 77 86 92","4 5 22 33 38 50 61 70 86 92","9 14 21 33 40 52 59 68 73 81 88 94","13 22 34 39 46 60 62 65 72 80 90","7 11 18 28 38 45 50 63 75 85 92 97","2 10 18 31 35 43 55 58 65 72 78 86","11 18 28 36 44 55 60 68 76 82 94","5 10 19 26 38 42 50 62 68 75 86 94","4 10 23 31 46 51 60 72 86 94","5 13 21 30 40 47 56 66 78 90","4 22 33 42 46 52 68 81 88","8 16 29 44 52 62 72 88","2 13 18 24 34 46 56 64 76 86","4 13 24 38 50 66 78 90","10 24 33 47 58 69 84 96","8 16 30 46 62 75 84 92","6 14 20 28 34 41 45 55 68 82 88"];
const py1_bumps=["6 26 48 50 66 72 78 84","5 17 37 48 60 78 88","11 33 49 62 72 94","6 13 24 35 49 55 62 72 80 90","17 30 44 49 62 84","4 11 27 48 49 62 79","5 18 28 35 49 62 84 95","8 20 27 36 48 60 72 85","11 24 34 48 52 60 68 78 90","6 17 30 42 50 62 74 85","4 15 28 40 49 62 72 88","17 28 39 49 60 70 84","9 22 34 49 62 74 90","6 17 30 48 60 68 84","11 22 38 50 62 78 94","8 22 36 49 60 78","15 26 40 49 68 84","8 20 30 45 62 80"];

const leftTicks=[{min:2100,max:2200,interval:20},{min:2000,max:2100,interval:20},{min:1600,max:2000,interval:100},{min:400,max:1600,interval:200},{min:0,max:400,interval:100}];
const rightTicks=[{max:400,interval:100},{max:400,interval:100},{max:150,interval:50},{max:350,interval:50},{max:350,interval:50}];
const colors=['#000000','#ff0000','#00008b','#00ff00','#00ff00'];
const labelFont='"Liberation Sans"', titleFont='"Liberation Serif"';

const nums=s=>s?s.split(' ').map(Number):[];
function complement(pairs,from,to){const out=[];let s=from;for(let i=0;i<pairs.length;i+=2){if(pairs[i]>s)out.push(s,pairs[i]);s=Math.max(s,pairs[i+1]);}if(s<to)out.push(s,to);return out;}
function runRects(rows,o){const r=[];rows.forEach((row,i)=>{const v=row;const n=o.top-i*o.step;for(let k=0;k<v.length;k+=2)r.push([o.t0+v[k]*o.bin,o.t0+v[k+1]*o.bin,n+o.step/2,n-o.step/2]);});return r;}
function barRects(gaps,o){const r=[],span=o.rTop-o.rBottom;spikeTimesLeft.forEach((t,b)=>{if(!o.gapped){r.push([t-18,t+18,o.rTop,o.rBottom]);return;}if(b>=gaps.length)return;const seg=complement(nums(gaps[b]),0,100);for(let k=0;k<seg.length;k+=2)r.push([t-18,t+18,o.rTop-seg[k]/100*span,o.rTop-seg[k+1]/100*span]);});return r;}
function bumpRects(bumps,o){const r=[],span=o.rTop-o.rBottom;bumps.forEach((row,b)=>{const t=spikeTimesLeft[b];nums(row).forEach(p=>{r.push([t-27,t+27,o.rTop-(p-.6)/100*span,o.rTop-(p+.6)/100*span]);});});return r;}

const rasterData=[
 barRects(re_gaps,{rTop:2202,rBottom:2100,gapped:true}).concat(runRects(re_runs.map(nums),{t0:2443,bin:16.57,top:2201.7,step:1.12})),
 barRects(tc_gaps,{rTop:2100,rBottom:2000.5,gapped:true}).concat(runRects(tc_runs.map(nums),{t0:2443,bin:16.57,top:2099.5,step:1.1})),
 barRects(null,{rTop:2002,rBottom:1598}).concat(bumpRects(in_bumps,{rTop:2002,rBottom:1598}),runRects(in_holes.map(s=>complement(nums(s),5,155.5)),{t0:2443,bin:16.57,top:2000,step:4.5})),
 barRects(null,{rTop:1600,rBottom:397}).concat(bumpRects(py0_bumps,{rTop:1600,rBottom:397}),runRects(Array.from({length:90},(_,i)=>complement(nums(py0_holes[i]||''),91.2,154.3)),{t0:-1061,bin:39.26,top:1592.5,step:13.37})),
 barRects(null,{rTop:401,rBottom:-1}).concat(bumpRects(py1_bumps,{rTop:401,rBottom:-1}),runRects(py1_holes.map(s=>complement(nums(s),94.5,149.3)),{t0:-1676,bin:44.7,top:401,step:4.5}))
];
function spikePoints(peaks,tail,onset){const p=[[0,0]];peaks.forEach((v,i)=>{const t=spikeTimesRight[i];p.push([t-30,0],[t-8,v],[t+8,v],[t+35,0]);});(onset||[]).forEach(q=>p.push(q));p.push([tailStart,tail[0]]);return p;}
const tailPoints=tail=>tail.map((v,i)=>[tailStart+i*tailStep,v]);
const spikeData=[spikePoints(re_peaks,re_tail),spikePoints(tc_peaks,tc_tail,tc_onset),spikePoints(in_peaks,in_tail),spikePoints(py0_peaks,py0_tail),spikePoints(py1_peaks,py1_tail)];
const tailData=[tailPoints(re_tail),tailPoints(tc_tail),tailPoints(in_tail),tailPoints(py0_tail),tailPoints(py1_tail)];

const L={x:354,w:1056,top:[71,562,1067,1567,2069],bot:[428,929,1427,1926,2430],axis:[438,939,1439,1939,2443],off:42,font:50,yMargin:49,xMargin:53};
const R={x:1655,w:1059,top:[55,590,1067,1569,2072],bot:[423,925,1427,1928,2432],axis:[438,939,1440,1941,2446],off:39,font:43,yMargin:54,xMargin:56};
const grid=[],xAxis=[],yAxis=[],series=[];
function addAxes(C,i,ticks){
 grid.push({left:C.x,width:C.w,top:C.top[i],height:C.bot[i]-C.top[i]});
 const g=grid.length-1;
 const line={show:true,onZero:false,lineStyle:{color:'#3a3a3a',width:4}};
 const label=(m)=>({show:true,fontFamily:labelFont,fontSize:C.font,color:'#1e1e1e',margin:m,hideOverlap:false,showMinLabel:true,showMaxLabel:true,formatter:v=>String(v)});
 xAxis.push({gridIndex:g,type:'value',min:0,max:5000,interval:1000,position:'bottom',offset:C.axis[i]-C.bot[i],axisLine:line,axisTick:{show:true,length:28,lineStyle:{color:'#444',width:3}},axisLabel:label(C.xMargin),splitLine:{show:false}});
 yAxis.push({gridIndex:g,type:'value',min:ticks.min||0,max:ticks.max,interval:ticks.interval,position:'left',offset:C.off,axisLine:line,axisTick:{show:true,length:27,lineStyle:{color:'#444',width:4}},axisLabel:label(C.yMargin),splitLine:{show:false}});
 return g;
}
const makeRender=color=>(params,api)=>{
 const a=api.coord([api.value(0),api.value(2)]),b=api.coord([api.value(1),api.value(3)]);
 const x=Math.round(Math.min(a[0],b[0])),y=Math.round(Math.min(a[1],b[1]));
 return {type:'rect',silent:true,shape:{x,y,width:Math.max(1,Math.round(Math.max(a[0],b[0]))-x),height:Math.max(1,Math.round(Math.max(a[1],b[1]))-y)},style:{fill:color}};
};
for(let i=0;i<5;i++){
 const gl=addAxes(L,i,leftTicks[i]);
 series.push({type:'custom',xAxisIndex:gl,yAxisIndex:gl,renderItem:makeRender(colors[i]),data:rasterData[i],encode:{x:[0,1],y:[2,3]},silent:true,animation:false,progressive:0,itemStyle:{color:colors[i]}});
 const gr=addAxes(R,i,rightTicks[i]);
 const lineBase={type:'line',xAxisIndex:gr,yAxisIndex:gr,showSymbol:false,symbol:'none',clip:false,silent:true,animation:false};
 series.push(Object.assign({},lineBase,{data:spikeData[i],lineStyle:{color:colors[i],width:2,join:'miter'},areaStyle:{color:colors[i],opacity:1}}));
 series.push(Object.assign({},lineBase,{data:tailData[i],step:'middle',lineStyle:{color:colors[i],width:2},areaStyle:{color:colors[i],opacity:1}}));
 series.push(Object.assign({},lineBase,{data:[[0,0],[5000,0]],lineStyle:{color:colors[i],width:8}}));
}
const t=(text,x,y,size,rot)=>({type:'text',x,y,rotation:rot||0,z:100,silent:true,style:{text,fill:'#000',font:'bold '+size+'px '+titleFont,textAlign:rot?'center':'left',textVerticalAlign:'middle'}});
const graphic=[
 t('RE',2564,145,62),t('TC',2564,664,62),t('IN',2564,1163,62),
 t('PY not receiving input',2125,1621,64),t('PY receiving 1Hz input',2132,2102,64),
 t('Time, ms',651,2616,64),
 t('Neuron number',61,1231,64,Math.PI/2),t('Frequency, Hz',1482,1247,64,Math.PI/2)
];
const chart=echarts.init(document.getElementById('c'),null,{renderer:'canvas',width:2773,height:2644});
chart.setOption({animation:false,backgroundColor:'#fff',grid,xAxis,yAxis,series,graphic,tooltip:{show:false}});
</script></body></html>
